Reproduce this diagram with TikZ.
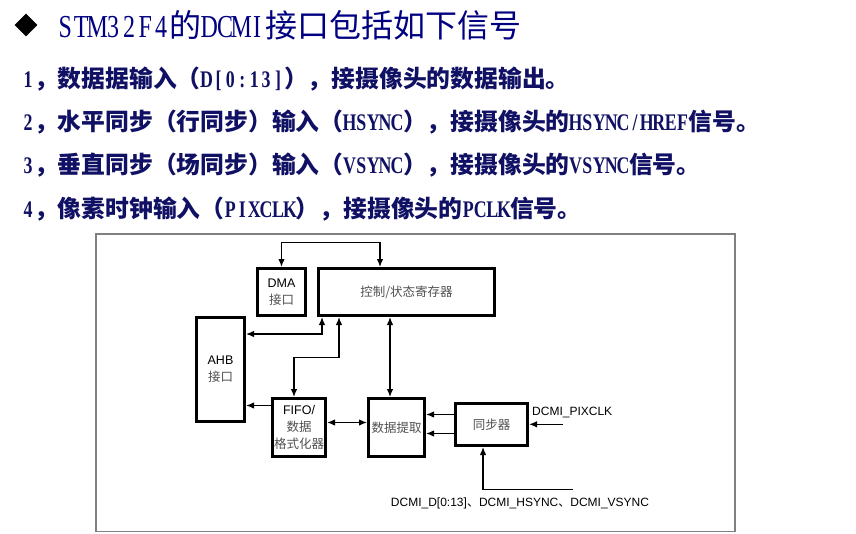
\documentclass[tikz,border=0pt]{standalone}
\usepackage{fontspec}
\usepackage{tikz}
\usetikzlibrary{arrows.meta,shapes.geometric}
\setmainfont{Noto Sans CJK SC}
\newfontfamily\latn[FakeStretch=0.75]{Liberation Serif}
\newfontfamily\arial{Liberation Sans}
\definecolor{titleNavy}{RGB}{0,0,128}
\definecolor{lineNavy}{RGB}{16,16,100}
\definecolor{zhGray}{RGB}{80,80,80}
\definecolor{frameGray}{RGB}{128,128,128}
\newcommand{\lat}[1]{\latloop#1\relax}
\def\latloop#1{\ifx#1\relax\else\makebox[0.5em]{\latn #1}\expandafter\latloop\fi}
\newcommand{\en}[1]{{\arial #1}}
\newcommand{\zh}[1]{{\color{zhGray}#1}}
\tikzset{
  blk/.style={draw, line width=3pt, inner sep=0pt, align=center, font=\fontsize{12.5}{17}\selectfont},
  arr/.style={line width=1.3pt},
  item/.style={anchor=west, inner sep=0pt, text=lineNavy, font=\fontsize{23.8}{28}\selectfont\bfseries},
  lbl/.style={inner sep=0pt, font=\fontsize{12}{14}\selectfont}
}

\begin{document}
\begin{tikzpicture}[x=1pt, y=-1pt, >={Latex[length=8pt,width=6.5pt]}]
    \useasboundingbox (0,0) rectangle (856,533);
    \node[diamond, fill=black, inner sep=0pt, minimum width=23pt, minimum height=23pt] (bullet) at (26,25) {};
    \node[anchor=west, inner sep=0pt, text=titleNavy, font=\fontsize{32}{36}\selectfont] (title) at (57,25) {\lat{STM32F4}的\lat{DCMI}接口包括如下信号};
    \node[item] (l1) at (22,79) {\lat{1}，数据据输入（\lat{D[0:13]}），接摄像头的数据输出。};
    \node[item] (l2) at (22,122) {\lat{2}，水平同步（行同步）输入（\lat{HSYNC}），接摄像头的\lat{HSYNC/HREF}信号。};
    \node[item] (l3) at (22,165) {\lat{3}，垂直同步（场同步）输入（\lat{VSYNC}），接摄像头的\lat{VSYNC}信号。};
    \node[item] (l4) at (22,209) {\lat{4}，像素时钟输入（\lat{PIXCLK}），接摄像头的\lat{PCLK}信号。};

    \draw[frameGray, line width=1.5pt] (96,234) rectangle (735,531.5);

    \node[blk, minimum width=48pt, minimum height=47pt] (dma) at (281.5,292) {\en{DMA}\\\zh{接口}};
    \node[blk, minimum width=176pt, minimum height=47pt] (ctrl) at (406.5,292) {\zh{控制/状态寄存器}};
    \node[blk, minimum width=48pt, minimum height=104pt] (ahb) at (220.5,369.5) {\en{AHB}\\\zh{接口}};
    \node[blk, minimum width=53pt, minimum height=58pt] (fifo) at (299,427.5) {\en{FIFO/}\\\zh{数据}\\\zh{格式化器}};
    \node[blk, minimum width=56pt, minimum height=58pt] (extract) at (396.5,427.5) {\zh{数据提取}};
    \node[blk, minimum width=72pt, minimum height=42pt] (sync) at (491.5,424.5) {\zh{同步器}};

    \draw[arr, <->] (dma.north) -- ++(0,-24.5) -| ([xshift=-26.5pt]ctrl.north);
    \draw[arr, <->] ([yshift=35.5pt]ahb.east) -| ([xshift=-84.5pt]ctrl.south);
    \draw[arr, <->] ([xshift=-5pt]fifo.north) -- ++(0,-39.5) -| ([xshift=-67.5pt]ctrl.south);
    \draw[arr, <->] ([xshift=-6.5pt]extract.north) -- ([xshift=-6.5pt]extract.north |- ctrl.south);
    \draw[arr, ->] ([yshift=22pt]fifo.west) -- ([yshift=22pt]fifo.west -| ahb.east);
    \draw[arr, <->] ([yshift=5pt]fifo.east) -- ([yshift=5pt]fifo.east -| extract.west);
    \foreach \dy in {10,-9}
        \draw[arr, ->] ([yshift=\dy pt]sync.west) -- ([yshift=\dy pt]sync.west -| extract.east);

    \coordinate (pixIn) at (563,424.3);
    \draw[arr, ->] (pixIn) -- (pixIn -| sync.east);
    \node[lbl, anchor=west] (pixLbl) at (532,412) {\en{DCMI\_PIXCLK}};
    \coordinate (dataIn) at (573,489.3);
    \draw[arr, ->] (dataIn) -| ([xshift=-8.5pt]sync.south);
    \node[lbl] (dataLbl) at (520,503) {\en{DCMI\_D[0:13]}、\en{DCMI\_HSYNC}、\en{DCMI\_VSYNC}};
\end{tikzpicture}
\end{document}
